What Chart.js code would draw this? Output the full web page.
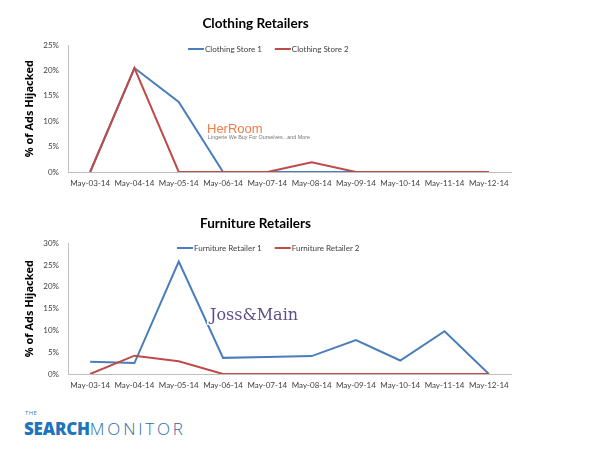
<!DOCTYPE html>
<html>
<head>
<meta charset="utf-8">
<script src="https://cdn.jsdelivr.net/npm/chart.js@4"></script>
<style>
  html, body { margin: 0; padding: 0; background: #fff; }
  body { width: 600px; height: 453px; position: relative; overflow: hidden; font-family: Lato, sans-serif; }
  .box { position: absolute; left: 0; width: 600px; }
  #top { top: 0; height: 194px; }
  #bottom { top: 200px; height: 196px; }
  .logo { position: absolute; left: 24px; top: 410px; color: #2a74b8; font-family: "Open Sans", sans-serif; white-space: nowrap; }
  .logo .the { font-size: 6px; letter-spacing: 0.4px; display: block; line-height: 7px; margin-left: 1px; color: #3b7fbf; }
  .logo .search { font-weight: 800; font-size: 17px; letter-spacing: -0.2px; color: #1f75bd; }
  .logo .monitor { font-weight: 300; font-size: 17px; letter-spacing: 2.8px; color: #2d6ca8; }
</style>
</head>
<body>
<div class="box" id="top"><canvas id="clothingChart"></canvas></div>
<div class="box" id="bottom"><canvas id="furnitureChart"></canvas></div>
<div class="logo"><span class="the">THE</span><span class="search">SEARCH</span><span class="monitor">MONITOR</span></div>

<script>
const weeks = ['May-03-14', 'May-04-14', 'May-05-14', 'May-06-14', 'May-07-14',
               'May-08-14', 'May-09-14', 'May-10-14', 'May-11-14', 'May-12-14'];

const clothingStore1 = [0, 20.5, 13.8, 0, 0, 0, 0, 0, 0, 0];
const clothingStore2 = [0, 20.5, 0, 0, 0, 1.9, 0, 0, 0, 0];

const furnitureRetailer1 = [2.8, 2.5, 25.8, 3.7, 3.9, 4.1, 7.8, 3.1, 9.8, 0];
const furnitureRetailer2 = [0, 4.2, 2.9, 0, 0, 0, 0, 0, 0, 0];

const blue = '#4a7ebb';
const red = '#be4b48';
const tickColor = '#404040';
const axisColor = '#bfbfbf';

// legend drawn inside the plot, like the Excel original
const innerLegend = {
    id: 'innerLegend',
    afterDraw(chart, args, opts) {
        const ctx = chart.ctx;
        ctx.save();
        ctx.font = '8px Lato, sans-serif';
        ctx.textBaseline = 'middle';
        let x = opts.x;
        chart.data.datasets.forEach(ds => {
            ctx.strokeStyle = ds.borderColor;
            ctx.lineWidth = 2;
            ctx.beginPath();
            ctx.moveTo(x, opts.y);
            ctx.lineTo(x + 16, opts.y);
            ctx.stroke();
            ctx.fillStyle = tickColor;
            ctx.fillText(ds.label, x + 17, opts.y);
            x += 17 + ctx.measureText(ds.label).width + 13;
        });
        ctx.restore();
    }
};

// brand mark sitting over the lines
const brandMark = {
    id: 'brandMark',
    afterDraw(chart, args, opts) {
        if (!opts.draw) return;
        const ctx = chart.ctx;
        ctx.save();
        opts.draw(ctx);
        ctx.restore();
    }
};

function makeChart(id, title, labels, sets, yMax, yStep, titlePad, legendPos, draw) {
    return new Chart(document.getElementById(id), {
        type: 'line',
        data: {
            labels: labels,
            datasets: sets.map((s, i) => ({
                label: s.label,
                data: s.data,
                borderColor: s.color,
                backgroundColor: s.color,
                borderWidth: 2,
                pointRadius: 0,
                tension: 0,
                fill: false,
                order: sets.length - i   // second series drawn on top
            }))
        },
        options: {
            responsive: true,
            maintainAspectRatio: false,
            animation: false,
            layout: { padding: { left: 0, right: 89, top: 0, bottom: 0 } },
            plugins: {
                legend: { display: false },
                tooltip: { enabled: false },
                title: {
                    display: true,
                    text: title,
                    color: '#000',
                    font: { family: 'Lato, sans-serif', size: 13.5, weight: 'bold' },
                    padding: titlePad
                },
                innerLegend: legendPos,
                brandMark: { draw: draw }
            },
            scales: {
                x: {
                    offset: true,
                    grid: { display: false, drawTicks: false },
                    border: { display: true, color: axisColor, width: 1 },
                    ticks: { color: tickColor, font: { size: 8, family: 'Lato, sans-serif' }, padding: 7, maxRotation: 0, autoSkip: false },
                    afterFit(scale) { scale.height = 22; }
                },
                y: {
                    min: 0,
                    max: yMax,
                    grid: { display: false, drawTicks: false },
                    border: { display: true, color: axisColor, width: 1 },
                    ticks: {
                        stepSize: yStep,
                        color: tickColor,
                        font: { size: 8, family: 'Lato, sans-serif' },
                        padding: 9,
                        callback: v => v + '%'
                    },
                    title: {
                        display: true,
                        text: '% of Ads Hijacked',
                        color: '#000',
                        font: { size: 11, weight: 'bold', family: '"Open Sans", sans-serif' },
                        padding: { top: 23, bottom: 0 }
                    },
                    afterFit(scale) { scale.width = 68; }
                }
            }
        },
        plugins: [innerLegend, brandMark]
    });
}

makeChart('clothingChart', 'Clothing Retailers', weeks, [
    { label: 'Clothing Store 1', data: clothingStore1, color: blue },
    { label: 'Clothing Store 2', data: clothingStore2, color: red }
], 25, 5, { top: 16, bottom: 13 }, { x: 188, y: 49 }, ctx => {
    ctx.fillStyle = '#fff';
    ctx.fillRect(205, 122, 140, 19);
    ctx.fillStyle = '#f07b4a';
    ctx.font = '13px "Liberation Sans", sans-serif';
    ctx.textBaseline = 'alphabetic';
    ctx.fillText('HerRoom', 207, 133);
    ctx.fillStyle = '#777';
    ctx.font = '5.4px "Liberation Sans", sans-serif';
    ctx.fillText('Lingerie We Buy For Ourselves...and More', 208, 139);
});

makeChart('furnitureChart', 'Furniture Retailers', weeks, [
    { label: 'Furniture Retailer 1', data: furnitureRetailer1, color: blue },
    { label: 'Furniture Retailer 2', data: furnitureRetailer2, color: red }
], 30, 5, { top: 16, bottom: 11 }, { x: 177, y: 48 }, ctx => {
    ctx.fillStyle = '#fff';
    ctx.fillRect(207, 100, 78, 25);
    ctx.fillStyle = '#5d4f86';
    ctx.font = '16px "DejaVu Serif", serif';
    ctx.textBaseline = 'alphabetic';
    ctx.fillText('Joss&Main', 210, 120);
});
</script>
</body>
</html>
